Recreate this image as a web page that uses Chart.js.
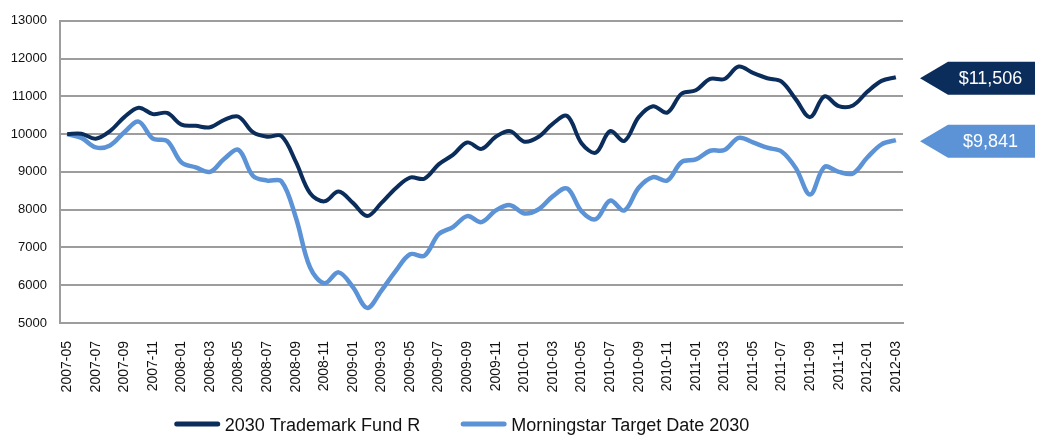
<!DOCTYPE html>
<html>
<head>
<meta charset="utf-8">
<script src="https://cdn.jsdelivr.net/npm/chart.js@4"></script>
<style>
  body { margin: 0; background: #ffffff; }
  #wrap { width: 1037px; height: 438px; position: relative; }
</style>
</head>
<body>
<div id="wrap"><canvas id="graficoFundo"></canvas></div>
<script>
// meses (eixo x)
const meses = [
    "2007-05", "2007-06", "2007-07", "2007-08", "2007-09", "2007-10", "2007-11", "2007-12",
    "2008-01", "2008-02", "2008-03", "2008-04", "2008-05", "2008-06", "2008-07", "2008-08",
    "2008-09", "2008-10", "2008-11", "2008-12", "2009-01", "2009-02", "2009-03", "2009-04",
    "2009-05", "2009-06", "2009-07", "2009-08", "2009-09", "2009-10", "2009-11", "2009-12",
    "2010-01", "2010-02", "2010-03", "2010-04", "2010-05", "2010-06", "2010-07", "2010-08",
    "2010-09", "2010-10", "2010-11", "2010-12", "2011-01", "2011-02", "2011-03", "2011-04",
    "2011-05", "2011-06", "2011-07", "2011-08", "2011-09", "2011-10", "2011-11", "2011-12",
    "2012-01", "2012-02", "2012-03"
];

// 2030 Trademark Fund R
const fundo = [
    10000, 10010, 9880, 10080, 10450, 10700, 10530, 10560,
    10250, 10220, 10180, 10380, 10460, 10050, 9930, 9950,
    9270, 8440, 8220, 8480, 8180, 7830, 8180, 8570,
    8850, 8820, 9200, 9450, 9780, 9610, 9930, 10080,
    9800, 9930, 10280, 10480, 9760, 9510, 10080, 9820,
    10450, 10740, 10570, 11070, 11160, 11460, 11460, 11790,
    11620, 11480, 11390, 10920, 10450, 11000, 10740, 10760,
    11120, 11410, 11506
];

// Morningstar Target Date 2030
const indice = [
    10000, 9900, 9650, 9700, 10050, 10330, 9880, 9820,
    9250, 9120, 9000, 9350, 9580, 8900, 8770, 8750,
    7800, 6470, 6050, 6340, 5950, 5400, 5860, 6380,
    6820, 6780, 7350, 7540, 7830, 7670, 7980, 8120,
    7900, 8010, 8360, 8560, 7960, 7750, 8240, 7980,
    8580, 8860, 8770, 9260, 9330, 9560, 9580, 9900,
    9780, 9640, 9540, 9100, 8400, 9130, 9000, 8960,
    9380, 9730, 9841
];

const yMin = 5000;
const yMax = 13000;
const yPasso = 1000;

const corEscura = "#0b2d5b";
const corClara = "#5b93d6";
const corGrade = "#9d9d9d";
const fonte = "'Liberation Sans', Arial, sans-serif";

// legenda desenhada abaixo dos rótulos do eixo x
const legendaPlugin = {
    id: "legendaBaixo",
    afterDraw(chart) {
        const ctx = chart.ctx;
        const y = 425;
        const linha = 45, gap = 5, entre = 41;
        ctx.save();
        ctx.font = "18px " + fonte;
        const itens = chart.data.datasets.map(ds => ({
            texto: ds.label,
            cor: ds.borderColor,
            w: ctx.measureText(ds.label).width
        }));
        let total = 0;
        itens.forEach((it, i) => {
            total += linha + gap + it.w + (i < itens.length - 1 ? entre : 0);
        });
        let x = 462 - total / 2;
        itens.forEach(it => {
            ctx.strokeStyle = it.cor;
            ctx.lineWidth = 5;
            ctx.lineCap = "round";
            ctx.beginPath();
            ctx.moveTo(x + 2, y - 1);
            ctx.lineTo(x + linha - 2, y - 1);
            ctx.stroke();
            ctx.fillStyle = "#111111";
            ctx.textBaseline = "middle";
            ctx.textAlign = "left";
            ctx.fillText(it.texto, x + linha + gap, y + 1);
            x += linha + gap + it.w + entre;
        });
        ctx.restore();
    }
};

// etiquetas com o valor final à direita
const etiquetaPlugin = {
    id: "etiquetaFinal",
    afterDraw(chart) {
        const ctx = chart.ctx;
        const yScale = chart.scales.y;
        const area = chart.chartArea;
        ctx.save();
        chart.data.datasets.forEach(ds => {
            const ultimo = ds.data[ds.data.length - 1];
            const yc = yScale.getPixelForValue(ultimo) + 1;
            const ponta = area.right + 17;
            const base = ponta + 28;
            const fim = chart.width - 2;
            const meia = 16.5;
            ctx.fillStyle = ds.borderColor;
            ctx.beginPath();
            ctx.moveTo(ponta, yc);
            ctx.lineTo(base, yc - meia);
            ctx.lineTo(fim, yc - meia);
            ctx.lineTo(fim, yc + meia);
            ctx.lineTo(base, yc + meia);
            ctx.closePath();
            ctx.fill();
            ctx.fillStyle = "#ffffff";
            ctx.font = "18px " + fonte;
            ctx.textAlign = "center";
            ctx.textBaseline = "middle";
            ctx.fillText("$" + ultimo.toLocaleString("en-US"), (base + fim) / 2 - 1, yc + 1);
        });
        ctx.restore();
    }
};

const grafico = new Chart(document.getElementById("graficoFundo"), {
    type: "line",
    data: {
        labels: meses,
        datasets: [
            {
                label: "2030 Trademark Fund R",
                data: fundo,
                borderColor: corEscura,
                borderWidth: 4,
                pointRadius: 0,
                tension: 0.35,
                fill: false
            },
            {
                label: "Morningstar Target Date 2030",
                data: indice,
                borderColor: corClara,
                borderWidth: 4.5,
                pointRadius: 0,
                tension: 0.35,
                fill: false
            }
        ]
    },
    options: {
        responsive: true,
        maintainAspectRatio: false,
        animation: false,
        layout: {
            padding: { left: 0, right: 134, top: 18, bottom: 0 }
        },
        plugins: {
            legend: { display: false },
            tooltip: { enabled: false }
        },
        scales: {
            x: {
                offset: true,
                grid: { display: false },
                border: { display: true, color: corGrade, width: 2 },
                ticks: {
                    autoSkip: false,
                    minRotation: 90,
                    maxRotation: 90,
                    padding: 10,
                    color: "#111111",
                    font: { family: fonte, size: 14 },
                    callback: function (valor, i) {
                        return i % 2 === 0 ? this.getLabelForValue(valor) : "";
                    }
                },
                afterFit: function (escala) {
                    escala.height = 115;
                }
            },
            y: {
                min: yMin,
                max: yMax,
                grid: { color: corGrade, lineWidth: 2, drawTicks: false },
                border: { display: true, color: corGrade, width: 2 },
                ticks: {
                    stepSize: yPasso,
                    padding: 13,
                    color: "#111111",
                    font: { family: fonte, size: 13 },
                    callback: valor => String(valor)
                },
                afterFit: function (escala) {
                    escala.width = 60;
                }
            }
        }
    },
    plugins: [legendaPlugin, etiquetaPlugin]
});
</script>
</body>
</html>
